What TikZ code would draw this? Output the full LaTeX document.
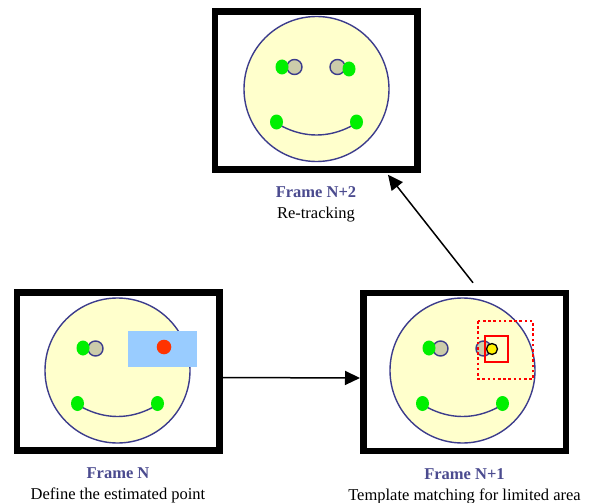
\documentclass[tikz,border=0pt]{standalone}
\usepackage{fontspec}
\setmainfont{Liberation Serif}
\usetikzlibrary{arrows.meta, positioning, calc}
\definecolor{faceFill}{HTML}{FFFFCC}
\definecolor{faceLine}{HTML}{3C3C8C}
\definecolor{eyeGray}{HTML}{CCCCAA}
\definecolor{markGreen}{HTML}{00F000}
\definecolor{markRed}{HTML}{FF3300}
\definecolor{searchBlue}{HTML}{99CCFF}
\definecolor{titleBlue}{HTML}{4B4B8F}
\tikzset{
    frameBox/.style={rectangle, draw=black, line width=6.5pt, fill=white, minimum width=202.5pt, minimum height=158pt, inner sep=0pt},
    caption/.style={align=center, inner sep=0pt, font=\fontsize{16.5}{20.7}\selectfont},
    faceOutline/.style={draw=faceLine, line width=1.4pt},
    greenDot/.style={fill=markGreen},
    arrow/.style={-{Triangle[length=15pt,width=14pt]}, line width=1.5pt, draw=black},
    smiley/.pic={
        \draw[faceOutline, fill=faceFill] (0,0) circle (72.5pt);
        \draw[faceOutline, fill=eyeGray] (-22,-22) circle (7.5pt);
        \draw[faceOutline, fill=eyeGray] (21,-22) circle (7.5pt);
        \draw[faceOutline] (-35,37) .. controls (-12,49) and (12,49) .. (35,37);
        \fill[greenDot] (-40,33) ellipse (6.5pt and 7.5pt);
        \fill[greenDot] (40,33) ellipse (6.5pt and 7.5pt);
    },
}

\begin{document}
\begin{tikzpicture}[x=1pt, y=-1pt]
    \useasboundingbox (0,0) rectangle (592,503);

    % the three frames
    \node[frameBox] (frameN2) at (316,90.5) {};
    \node[frameBox] (frameN) at (118,371.5) {};
    \node[frameBox] (frameN1) at (464.5,372) {};

    \coordinate (faceN2) at (316.5,89);
    \coordinate (faceN) at (117.5,370.5);
    \coordinate (faceN1) at (462.5,370.5);

    % frame N+2: all points found again
    \pic at (faceN2) {smiley};
    \fill[greenDot] ($(faceN2)+(-34.5,-22)$) ellipse (6.5pt and 7.5pt);
    \fill[greenDot] ($(faceN2)+(32.5,-20)$) ellipse (6.5pt and 7.5pt);

    % frame N: estimated point
    \pic at (faceN) {smiley};
    \fill[greenDot] ($(faceN)+(-34.5,-22.5)$) ellipse (6.5pt and 7.5pt);
    \fill[searchBlue] ($(faceN)+(10.5,-39.5)$) rectangle ($(faceN)+(79.5,-3.5)$);
    \fill[markRed] ($(faceN)+(46.5,-23.5)$) circle (7.3pt);

    % frame N+1: search window and template
    \pic at (faceN1) {smiley};
    \fill[greenDot] ($(faceN1)+(-33.5,-22.5)$) ellipse (6.5pt and 7.5pt);
    \draw[red, line width=2.2pt, dash pattern=on 2.6pt off 2.6pt] ($(faceN1)+(15.5,-49.5)$) rectangle ($(faceN1)+(70.5,8.5)$);
    \draw[red, line width=2.4pt] ($(faceN1)+(22.5,-34.5)$) rectangle ($(faceN1)+(45.5,-8.5)$);
    \draw[black, line width=1.3pt, fill=yellow] ($(faceN1)+(29.5,-21.5)$) circle (5.5pt);

    % captions
    \node[caption, below=14pt of frameN2] (capN2) {\textcolor{titleBlue}{\textbf{Frame N+2}}\\Re-tracking};
    \node[caption, below=14pt of frameN] (capN) {\textcolor{titleBlue}{\textbf{Frame N}}\\Define the estimated point};
    \node[caption, below=14pt of frameN1] (capN1) {\textcolor{titleBlue}{\textbf{Frame N+1}}\\Template matching for limited area};

    % arrows between frames
    \draw[arrow] ([yshift=-6pt]frameN.east) -- ([yshift=-6pt]frameN1.west);
    \draw[arrow] ([xshift=8.5pt,yshift=7pt]frameN1.north) -- ([xshift=72pt,yshift=-2pt]frameN2.south);
\end{tikzpicture}
\end{document}
